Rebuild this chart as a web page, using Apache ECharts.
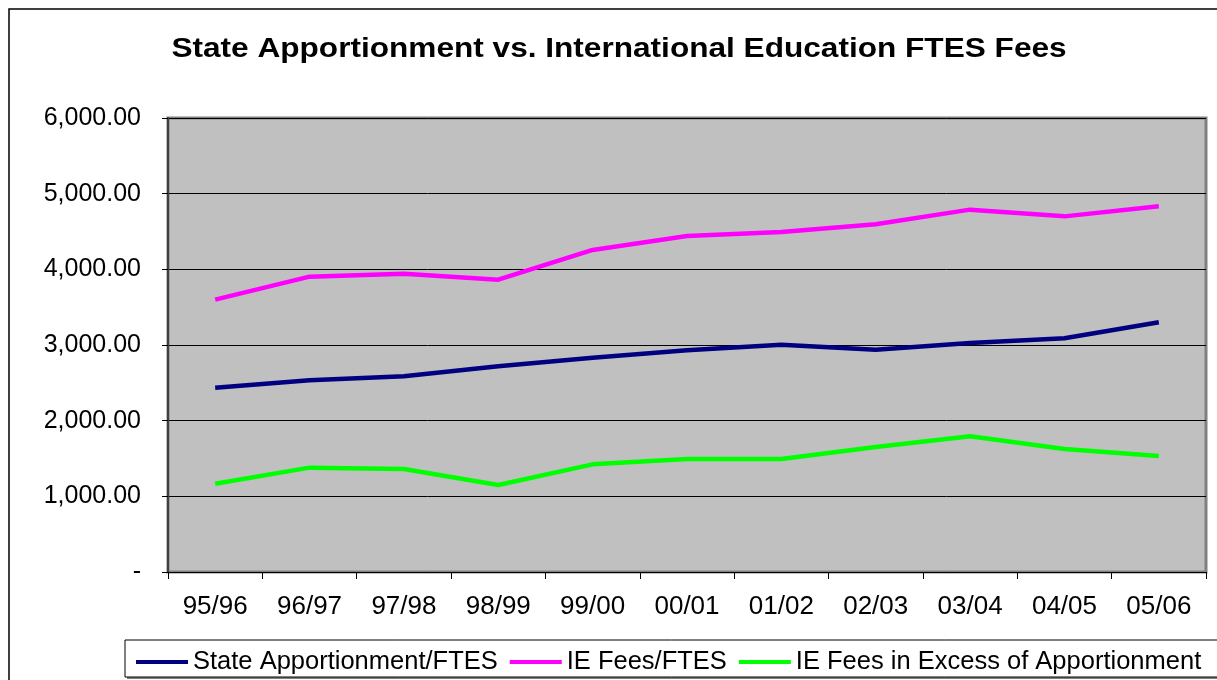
<!DOCTYPE html>
<html>
<head>
<meta charset="utf-8">
<script src="https://cdn.jsdelivr.net/npm/echarts@6/dist/echarts.min.js"></script>
<style>
  html, body { margin: 0; padding: 0; background: #fff; }
  #main { width: 1217px; height: 680px; }
</style>
</head>
<body>
<div id="main"></div>
<script>
// 数据
const years = ['95/96', '96/97', '97/98', '98/99', '99/00', '00/01', '01/02', '02/03', '03/04', '04/05', '05/06'];
const stateApportionment = [2436, 2533, 2586, 2718, 2833, 2930, 3004, 2938, 3026, 3088, 3300];
const ieFees = [3599, 3903, 3943, 3863, 4256, 4440, 4493, 4595, 4789, 4700, 4833];
const ieExcess = [1167, 1379, 1361, 1150, 1423, 1493, 1493, 1652, 1793, 1626, 1533];
const yTicks = [0, 1000, 2000, 3000, 4000, 5000, 6000];

const font = 'Liberation Sans, Arial, sans-serif';
let chart = echarts.init(document.getElementById('main'));

function fmt(v) {
  if (v === 0) return '-';
  return v.toLocaleString('en-US', { minimumFractionDigits: 2, maximumFractionDigits: 2 });
}

let option = {
  animation: false,
  graphic: [
    // 外框
    {
      type: 'rect',
      shape: { x: 9, y: 9, width: 1230, height: 700 },
      style: { fill: 'none', stroke: '#000', lineWidth: 1.5 }
    },
    // 标题（原图横向拉伸）
    {
      type: 'text',
      x: 619,
      y: 50,
      scaleX: 1.17,
      style: {
        text: 'State Apportionment vs. International Education FTES Fees',
        x: 0, y: 0,
        align: 'center',
        verticalAlign: 'middle',
        fontFamily: font,
        fontSize: 27,
        fontWeight: 'bold',
        fill: '#000'
      }
    },
    // 图例框
    {
      type: 'rect',
      shape: { x: 127, y: 677, width: 1100, height: 2 },
      style: { fill: '#808080' },
      z: 0
    },
    {
      type: 'rect',
      shape: { x: 125, y: 640, width: 1100, height: 37 },
      style: { fill: '#fff', stroke: '#000', lineWidth: 1 },
      z: 0
    }
  ],
  legend: {
    left: 131,
    top: 644,
    width: 1300,
    icon: 'rect',
    itemWidth: 52,
    itemHeight: 4,
    itemGap: 12,
    textStyle: { fontFamily: font, fontSize: 25.5, color: '#000' },
    data: ['State Apportionment/FTES', 'IE Fees/FTES', 'IE Fees in Excess of Apportionment']
  },
  grid: {
    left: 168,
    top: 118,
    width: 1038,
    height: 454,
    show: true,
    backgroundColor: '#c0c0c0',
    borderColor: '#808080',
    borderWidth: 3
  },
  xAxis: {
    type: 'category',
    data: years,
    boundaryGap: true,
    axisLine: { lineStyle: { color: '#000', width: 1 } },
    axisTick: { show: true, length: 7, lineStyle: { color: '#000' } },
    axisLabel: { fontFamily: font, fontSize: 26, color: '#000', margin: 22 }
  },
  yAxis: {
    type: 'value',
    min: 0,
    max: 6000,
    interval: 1000,
    axisLine: { show: true, lineStyle: { color: '#404040', width: 2 } },
    axisTick: { show: true, length: 6, lineStyle: { color: '#000' } },
    axisLabel: {
      fontFamily: font, fontSize: 25, color: '#000', margin: 27,
      formatter: v => yTicks.indexOf(v) >= 0 ? fmt(v) : ''
    },
    splitLine: { show: true, lineStyle: { color: '#000', width: 1 } }
  },
  series: [
    {
      name: 'State Apportionment/FTES',
      type: 'line',
      data: stateApportionment,
      showSymbol: false,
      lineStyle: { color: '#000080', width: 4.5 },
      itemStyle: { color: '#000080' }
    },
    {
      name: 'IE Fees/FTES',
      type: 'line',
      data: ieFees,
      showSymbol: false,
      lineStyle: { color: '#ff00ff', width: 4.5 },
      itemStyle: { color: '#ff00ff' }
    },
    {
      name: 'IE Fees in Excess of Apportionment',
      type: 'line',
      data: ieExcess,
      showSymbol: false,
      lineStyle: { color: '#00ff00', width: 4.5 },
      itemStyle: { color: '#00ff00' }
    }
  ]
};
chart.setOption(option);
</script>
</body>
</html>
